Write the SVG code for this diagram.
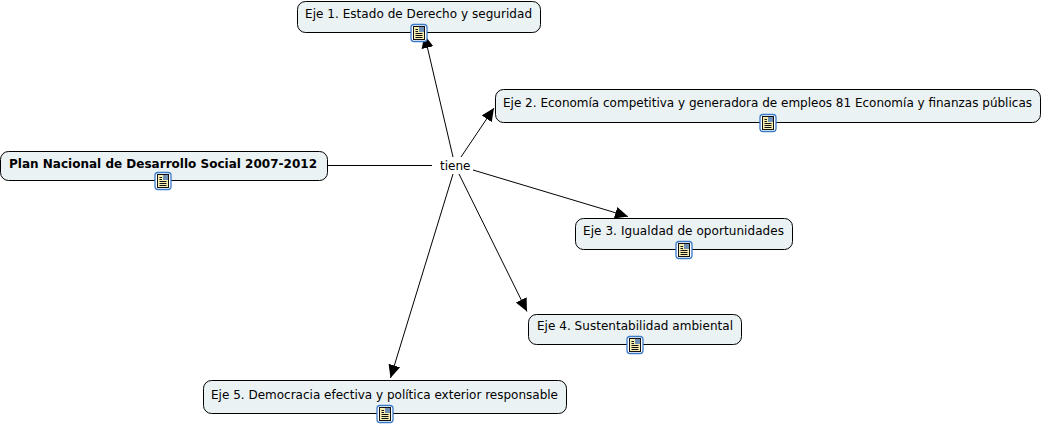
<svg xmlns="http://www.w3.org/2000/svg" width="1043" height="425" viewBox="0 0 1043 425">
<style>
text{font-family:Verdana,"DejaVu Sans",sans-serif;font-size:12px;fill:#000}
.n{fill:#ebf2f4;stroke:#000;stroke-width:1}
.c{stroke:#000;stroke-width:1;fill:none}
.b{font-weight:bold}
</style>
<defs>
<marker id="a" markerUnits="userSpaceOnUse" markerWidth="14" markerHeight="14" refX="13" refY="6.500" orient="auto"><path d="M0 0.500L13 6.500L0 12.500Z" fill="#000"/></marker>
<g id="icon">
<rect x="-8" y="-8.500" width="16" height="17" rx="3" fill="#fff" stroke="#3a78c8" stroke-width="1.300"/>
<rect x="-5.500" y="-6.500" width="11" height="13" fill="#f6eeb0" stroke="#111" stroke-width="1"/>
<rect x="0" y="-6" width="5" height="5" fill="#6f8fb5"/>
<path d="M-3.500 -3.500H-1M-3.500 -1.500H-1M-3.500 .5H3.500M-3.500 2.500H3.500M-3.500 4.500H3.500" stroke="#111" stroke-width="1" fill="none"/>
</g>
</defs>
<g id="connectors">
<path class="c" d="M328 165.500H432"/>
<path class="c" d="M453 157L424.500 35" marker-end="url(#a)"/>
<path class="c" d="M461 157L494 108" marker-end="url(#a)"/>
<path class="c" d="M473 170L628 216.500" marker-end="url(#a)"/>
<path class="c" d="M459 174L527 311.500" marker-end="url(#a)"/>
<path class="c" d="M453 174L390.500 378" marker-end="url(#a)"/>
</g>
<g id="n0"><rect class="n" x="0.500" y="151.500" width="327" height="29" rx="8"/><text class="b" x="9" y="168" textLength="308">Plan Nacional de Desarrollo Social 2007-2012</text><use href="#icon" x="163" y="181"/></g>
<g id="link"><text x="440" y="170">tiene</text></g>
<g id="n1"><rect class="n" x="297.500" y="1.500" width="243" height="31" rx="8"/><text x="305" y="18" textLength="227">Eje 1. Estado de Derecho y seguridad</text><use href="#icon" x="419" y="33"/></g>
<g id="n2"><rect class="n" x="495.500" y="89.500" width="545" height="33" rx="8"/><text x="503" y="107" textLength="529">Eje 2. Economía competitiva y generadora de empleos 81 Economía y finanzas públicas</text><use href="#icon" x="768" y="123"/></g>
<g id="n3"><rect class="n" x="575.500" y="218.500" width="217" height="31" rx="8"/><text x="583" y="235" textLength="201">Eje 3. Igualdad de oportunidades</text><use href="#icon" x="684" y="250"/></g>
<g id="n4"><rect class="n" x="528.500" y="314.500" width="213" height="30" rx="8"/><text x="537" y="330" textLength="196">Eje 4. Sustentabilidad ambiental</text><use href="#icon" x="635" y="345"/></g>
<g id="n5"><rect class="n" x="203.500" y="380.500" width="363" height="33" rx="8"/><text x="211" y="399" textLength="347">Eje 5. Democracia efectiva y política exterior responsable</text><use href="#icon" x="385" y="414"/></g>
</svg>
